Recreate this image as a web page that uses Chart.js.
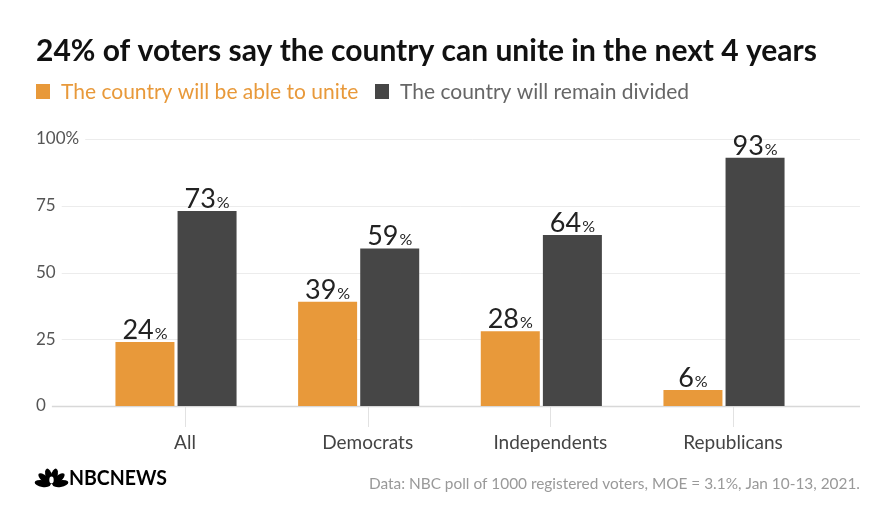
<!DOCTYPE html>
<html>
<head>
<meta charset="utf-8">
<script src="https://cdn.jsdelivr.net/npm/chart.js@4.4.1/dist/chart.umd.min.js"></script>
<style>
  html, body { margin: 0; padding: 0; background: #fff; }
  #wrap { width: 892px; height: 519px; position: relative; }
</style>
</head>
<body>
<div id="wrap"><canvas id="c" width="892" height="519"></canvas></div>
<script>
'use strict';

// Data
var categories = ['All', 'Democrats', 'Independents', 'Republicans'];
var uniteValues = [24, 39, 28, 6];
var dividedValues = [73, 59, 64, 93];
var seriesNames = ['The country will be able to unite', 'The country will remain divided'];
var yTicks = [0, 25, 50, 75, 100];

var title = '24% of voters say the country can unite in the next 4 years';
var source = 'Data: NBC poll of 1000 registered voters, MOE = 3.1%, Jan 10-13, 2021.';

var ORANGE = '#E8993A',
	DARK = '#464646',
	FONT = 'Lato, "Open Sans", sans-serif',
	TICK_SHIFT = 9; // category ticks sit a little right of the bar pairs

// Gridlines start just after each tick label, like the original
var gridPlugin = {
	id: 'gridLines',
	beforeDatasetsDraw: function (chart) {
		var ctx = chart.ctx,
			y = chart.scales.y,
			x = chart.scales.x,
			area = chart.chartArea;
		ctx.save();
		ctx.font = '17px ' + FONT;
		y.ticks.forEach(function (t) {
			var py = Math.round(y.getPixelForValue(t.value)) + 0.5,
				x0 = 36 + ctx.measureText(t.label).width + 6;
			ctx.strokeStyle = t.value === 0 ? '#d8d8d8' : '#ececec';
			ctx.lineWidth = t.value === 0 ? 1.5 : 1;
			ctx.beginPath();
			ctx.moveTo(x0, py);
			ctx.lineTo(860, py);
			ctx.stroke();
		});
		// short category ticks under the axis
		ctx.strokeStyle = '#e2e2e2';
		ctx.lineWidth = 1;
		categories.forEach(function (c, i) {
			var px = Math.round(x.getPixelForTick(i) + TICK_SHIFT) + 0.5;
			ctx.beginPath();
			ctx.moveTo(px, area.bottom + 1);
			ctx.lineTo(px, area.bottom + 21);
			ctx.stroke();
		});
		ctx.restore();
	}
};

// Value labels: big number, small percent sign
var valuePlugin = {
	id: 'valueLabels',
	afterDatasetsDraw: function (chart) {
		var ctx = chart.ctx;
		ctx.save();
		ctx.fillStyle = '#222';
		ctx.textBaseline = 'alphabetic';
		ctx.textAlign = 'left';
		chart.data.datasets.forEach(function (ds, di) {
			chart.getDatasetMeta(di).data.forEach(function (bar, i) {
				var num = String(ds.data[i]);
				ctx.font = '27px ' + FONT;
				var wNum = ctx.measureText(num).width;
				ctx.font = '16px ' + FONT;
				var wPct = ctx.measureText('%').width;
				var x = bar.x - (wNum + wPct + 1) / 2,
					by = bar.y - 3;
				ctx.font = '27px ' + FONT;
				ctx.fillText(num, x, by);
				ctx.font = '16px ' + FONT;
				ctx.fillText('%', x + wNum + 1, by);
			});
		});
		ctx.restore();
	}
};

// Title, legend, source and logo
function drawPeacock(ctx, x, y) {
	// six feathers fanning out from the base
	var cx = x + 15.5, cy = y + 16, i, a;
	ctx.fillStyle = '#000';
	for (i = 0; i < 6; i++) {
		a = Math.PI * (-0.95 + i * 0.18);
		ctx.save();
		ctx.translate(cx + Math.cos(a) * 9, cy + Math.sin(a) * 9);
		ctx.rotate(a);
		ctx.beginPath();
		ctx.ellipse(0, 0, 8, 3.4, 0, 0, Math.PI * 2);
		ctx.fill();
		ctx.restore();
	}
	ctx.fillStyle = '#fff';
	ctx.beginPath();
	ctx.ellipse(cx, cy - 5, 2.2, 3.4, 0, 0, Math.PI * 2);
	ctx.fill();
}

var frame = {
	id: 'frame',
	afterDraw: function (chart) {
		var ctx = chart.ctx;
		ctx.save();
		ctx.textBaseline = 'middle';
		ctx.textAlign = 'left';

		ctx.fillStyle = '#111';
		ctx.font = 'bold 30px ' + FONT;
		ctx.fillText(title, 36, 51);

		ctx.font = '21px ' + FONT;
		ctx.fillStyle = ORANGE;
		ctx.fillRect(36, 84, 14, 15);
		ctx.fillText(seriesNames[0], 61, 92);
		ctx.fillStyle = DARK;
		ctx.fillRect(375, 84, 14, 15);
		ctx.fillStyle = '#666';
		ctx.fillText(seriesNames[1], 400, 92);

		ctx.textAlign = 'right';
		ctx.fillStyle = '#999';
		ctx.font = '15.4px ' + FONT;
		ctx.fillText(source, 860, 484);

		drawPeacock(ctx, 36, 469);
		ctx.textAlign = 'left';
		ctx.fillStyle = '#000';
		ctx.font = 'bold 21px ' + FONT;
		var w = ctx.measureText('NBCNEWS').width;
		ctx.translate(69, 478);
		ctx.scale(98 / w, 1);
		ctx.fillText('NBCNEWS', 0, 0);
		ctx.restore();
	}
};

new Chart(document.getElementById('c'), {
	type: 'bar',
	data: {
		labels: categories,
		datasets: [{
			label: seriesNames[0],
			data: uniteValues,
			backgroundColor: ORANGE
		}, {
			label: seriesNames[1],
			data: dividedValues,
			backgroundColor: DARK
		}]
	},
	options: {
		responsive: false,
		animation: false,
		devicePixelRatio: 1,
		categoryPercentage: 0.68,
		barPercentage: 0.95,
		layout: {
			padding: { left: 36, right: 76.67, top: 139, bottom: 53 }
		},
		plugins: {
			legend: { display: false },
			title: { display: false },
			tooltip: { enabled: false }
		},
		scales: {
			x: {
				afterFit: function (scale) { scale.height = 60; },
				grid: { display: false },
				border: { display: false },
				ticks: {
					color: '#444',
					padding: 17,
					labelOffset: TICK_SHIFT,
					font: { size: 19, family: FONT }
				}
			},
			y: {
				min: 0,
				max: 100,
				afterFit: function (scale) { scale.width = 48.67; },
				afterBuildTicks: function (scale) {
					scale.ticks = yTicks.map(function (v) { return { value: v }; });
				},
				grid: { display: false },
				border: { display: false },
				ticks: {
					crossAlign: 'far',
					color: '#555',
					font: { size: 17, family: FONT },
					callback: function (v) { return v === 100 ? '100%' : String(v); }
				}
			}
		}
	},
	plugins: [gridPlugin, valuePlugin, frame]
});
</script>
</body>
</html>
